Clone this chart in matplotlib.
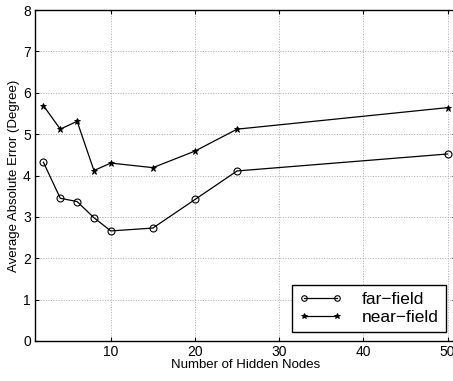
import numpy as np
import matplotlib
matplotlib.use("Agg")
import matplotlib.pyplot as plt

plt.rcParams['font.family'] = ['Liberation Sans', 'DejaVu Sans']

hidden_nodes = [2, 4, 6, 8, 10, 15, 20, 25, 50]
far_field = [4.32, 3.45, 3.37, 2.98, 2.66, 2.73, 3.42, 4.11, 4.52]
near_field = [5.69, 5.12, 5.31, 4.12, 4.30, 4.19, 4.59, 5.12, 5.64]

fig = plt.figure(figsize=(4.53, 3.81), dpi=100)
ax = fig.add_axes([35 / 453, 40 / 381, 421 / 453, 331 / 381])

ax.plot(hidden_nodes, far_field, '-o', color='black', lw=0.9,
        markersize=5, markerfacecolor='none', markeredgewidth=0.8, label='far\u2212field')
ax.plot(hidden_nodes, near_field, '-*', color='black', lw=0.9,
        markersize=5, markeredgewidth=0.6, label='near\u2212field')

ax.set_xlim(1, 51)
ax.set_ylim(0, 8)
ax.set_xticks([10, 20, 30, 40, 50])
ax.set_yticks(range(0, 9))
ax.tick_params(direction='in', top=True, right=True, length=3, labelsize=10, pad=3)
ax.grid(True, linestyle=':', color='#aaaaaa', linewidth=0.7)

ax.set_xlabel('Number of Hidden Nodes', fontsize=9.5, labelpad=0)
ax.set_ylabel('Average Absolute Error (Degree)', fontsize=9.5, labelpad=2)

for s in ax.spines.values():
    s.set_linewidth(1.0)

leg = ax.legend(loc='lower right', fontsize=12.5, frameon=True, fancybox=False,
                edgecolor='black', borderpad=0.4, labelspacing=0.15,
                handlelength=2.5, handletextpad=1.1, numpoints=2, markerscale=0.8,
                borderaxespad=0,
                bbox_to_anchor=(445.5 / 453, (381 - 331.7) / 381),
                bbox_transform=fig.transFigure)
leg.get_frame().set_linewidth(1.0)
leg.get_frame().set_alpha(1)

fig.savefig('out.png', dpi=100)
